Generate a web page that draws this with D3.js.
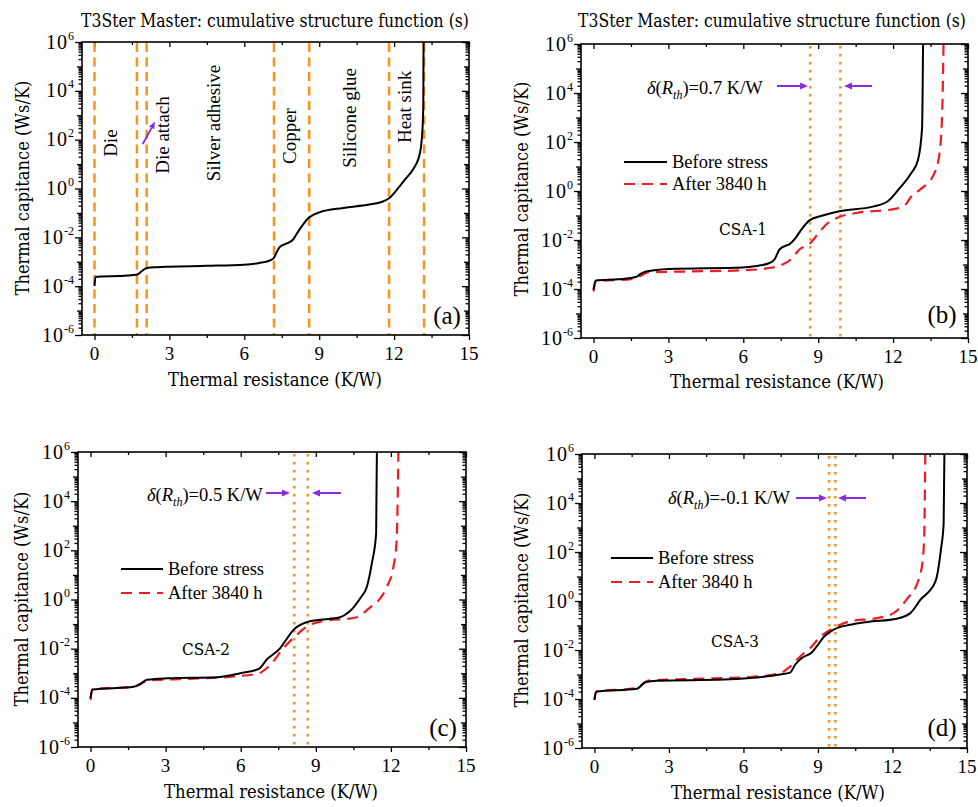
<!DOCTYPE html>
<html>
<head>
<meta charset="utf-8">
<script src="https://cdn.jsdelivr.net/npm/d3@7"></script>
<style>
  body { margin: 0; background: #fff; }
  svg { display: block; }
</style>
</head>
<body>
<svg id="chart" width="978" height="807"></svg>
<script>
// ---- Cumulative structure function data: thermal resistance R (K/W) vs thermal capacitance C (Ws/K)

// (a) reference device with layer boundaries
const aR = [0, 0.04, 0.3, 1.0, 1.5, 1.72, 1.9, 2.1, 2.5, 3.0, 4.5, 6.0, 6.6, 7.0, 7.18, 7.3, 7.42, 7.7, 7.96, 8.1, 8.3, 8.56, 8.8, 9.0, 9.96, 11.0, 11.5, 11.8, 12.23, 12.5, 12.77, 13.04, 13.14, 13.17, 13.18];
const aC = [1.0e-4, 2.4e-4, 2.5e-4, 2.6e-4, 2.8e-4, 3.0e-4, 4.2e-4, 5.5e-4, 6.0e-4, 6.3e-4, 6.8e-4, 7.6e-4, 8.9e-4, 1.1e-3, 1.4e-3, 2.5e-3, 4.0e-3, 5.6e-3, 8.3e-3, 1.4e-2, 2.8e-2, 6.0e-2, 8.7e-2, 0.105, 0.16, 0.22, 0.28, 0.4, 1.26, 2.8, 6.3, 30, 316, 3160, 1e6];
const layerBounds = [0, 1.7, 2.09, 7.19, 8.6, 11.8, 13.2];
const layerNames = ["Die", "Die attach", "Silver adhesive", "Copper", "Silicone glue", "Heat sink"];

// (b) CSA-1
const bBeforeR = [0, 0.09, 1.0, 1.7, 1.9, 2.1, 3.03, 5.98, 6.6, 7.05, 7.25, 7.45, 7.91, 8.09, 8.32, 8.65, 9.18, 9.85, 11.19, 11.79, 12.26, 12.73, 13.0, 13.16, 13.2];
const bBeforeC = [9.3e-5, 2.2e-4, 2.5e-4, 3.1e-4, 4.2e-4, 5.2e-4, 6.6e-4, 7.6e-4, 8.9e-4, 1.15e-3, 1.6e-3, 4.1e-3, 7.6e-3, 1.2e-2, 2.6e-2, 6.3e-2, 0.1, 0.15, 0.23, 0.38, 1.3, 5.4, 19, 370, 1e6];
const bAfterR = [0, 0.09, 1.56, 1.9, 2.17, 3.84, 5.98, 7.0, 7.51, 7.91, 8.25, 8.65, 8.98, 9.32, 9.85, 10.52, 12.13, 12.5, 12.73, 13.06, 13.66, 13.86, 13.97, 14.02];
const bAfterC = [7.9e-5, 2.0e-4, 2.6e-4, 3.5e-4, 4.8e-4, 5.2e-4, 5.8e-4, 7.1e-4, 9.3e-4, 1.6e-3, 4.1e-3, 6.9e-3, 1.7e-2, 4.3e-2, 8.7e-2, 0.126, 0.19, 0.28, 0.6, 1.1, 5.4, 35, 2100, 1e6];
const bShift = [8.68, 9.89];

// (c) CSA-2
const cBeforeR = [0, 0.07, 1.73, 2.0, 2.26, 3.06, 5.05, 5.98, 6.72, 7.05, 7.58, 7.85, 8.11, 8.64, 9.18, 9.97, 10.31, 10.77, 11.04, 11.24, 11.41, 11.44];
const cBeforeC = [9.8e-5, 2.2e-4, 2.8e-4, 3.8e-4, 5.4e-4, 6.2e-4, 6.9e-4, 1.0e-3, 1.5e-3, 3.7e-3, 1.05e-2, 2.6e-2, 5.8e-2, 0.12, 0.15, 0.19, 0.3, 1.1, 3.3, 30, 490, 1e6];
const cAfterR = [0, 0.07, 1.73, 2.0, 2.26, 3.72, 5.72, 6.72, 7.18, 7.71, 8.18, 8.64, 9.18, 10.64, 11.04, 11.84, 12.1, 12.23, 12.3];
const cAfterC = [8.3e-5, 2.2e-4, 2.8e-4, 3.6e-4, 5.0e-4, 5.8e-4, 7.4e-4, 1.0e-3, 2.2e-3, 1.05e-2, 3.2e-2, 7.9e-2, 0.126, 0.19, 0.37, 3.3, 21, 260, 1e6];
const cShift = [8.14, 8.68];

// (d) CSA-3
const dBeforeR = [0, 0.07, 1.71, 2.04, 2.51, 5.2, 6.27, 7.48, 7.88, 8.08, 8.35, 8.75, 8.95, 9.23, 9.63, 10.3, 10.97, 12.18, 12.72, 13.12, 13.73, 13.95, 14.06, 14.09];
const dBeforeC = [9.3e-5, 2.0e-4, 2.6e-4, 4.8e-4, 5.6e-4, 6.2e-4, 7.2e-4, 1.0e-3, 1.2e-3, 2.5e-3, 4.7e-3, 7.9e-3, 1.4e-2, 3.4e-2, 6.8e-2, 0.107, 0.14, 0.19, 0.32, 1.1, 6.3, 126, 1500, 1e6];
const dAfterR = [0, 0.07, 1.71, 2.18, 3.85, 6.27, 7.48, 7.88, 8.29, 8.69, 9.09, 9.63, 10.3, 11.37, 12.04, 12.58, 13.05, 13.22, 13.28, 13.32];
const dAfterC = [9.3e-5, 2.0e-4, 2.8e-4, 5.6e-4, 6.6e-4, 7.9e-4, 1.15e-3, 2.1e-3, 5.5e-3, 1.2e-2, 3.4e-2, 7.9e-2, 0.15, 0.2, 0.32, 1.2, 7.4, 49, 600, 1e6];
const dShift = [9.45, 9.7];

// Axis ticks
const xMajor = [0, 3, 6, 9, 12, 15];
const xMinor = [1.5, 4.5, 7.5, 10.5, 13.5];
const yMajorExp = [-6, -4, -2, 0, 2, 4, 6];
const xDomain = [-0.5, 15];
const yDomain = [1e-6, 1e6];

// Text
const titleText = "T3Ster Master: cumulative structure function (s)";
const xLabel = "Thermal resistance (K/W)";
const yLabel = "Thermal capitance (Ws/K)";
const legendLabels = ["Before stress", "After 3840 h"];

// ---- styles
const SERIF = "'Liberation Serif','Times New Roman',serif";
const CAMB = "'DejaVu Serif Condensed','DejaVu Serif',serif";
const ORANGE = "#f7941d";
const RED = "#ec1c24";
const PURPLE = "#8a2be2";

const svg = d3.select("#chart");

// Panel frames and annotation placement
const panels = [
  {
    key: "a", frame: [82, 42, 469, 335], tag: "(a)", tagPos: [447, 324],
    title: [275, 27], xl: [275, 386], yl: [29, 188],
    curves: [{ r: aR, c: aC, dash: null }],
    bounds: layerBounds
  },
  {
    key: "b", frame: [581, 44, 968, 338], tag: "(b)", tagPos: [942, 323],
    title: [772, 27], xl: [777, 388], yl: [528, 189],
    curves: [{ r: bBeforeR, c: bBeforeC, dash: null }, { r: bAfterR, c: bAfterC, dash: "11,7" }],
    shift: bShift, delta: "0.7", deltaPos: [647, 94], arrowY: 86, arrowL: [777, 808], arrowR: [872, 844],
    legend: { x1: 624, x2: 667, tx: 672, y1: 162, y2: 184 }, csa: ["CSA-1", 743, 235]
  },
  {
    key: "c", frame: [78, 452, 466, 747], tag: "(c)", tagPos: [443, 736],
    xl: [271, 798], yl: [28, 599],
    curves: [{ r: cBeforeR, c: cBeforeC, dash: null }, { r: cAfterR, c: cAfterC, dash: "11,7" }],
    shift: cShift, delta: "0.5", deltaPos: [147, 501], arrowY: 493, arrowL: [266, 290], arrowR: [341, 312],
    legend: { x1: 121, x2: 163, tx: 168, y1: 569, y2: 593 }, csa: ["CSA-2", 206, 655]
  },
  {
    key: "d", frame: [582, 454, 967, 748], tag: "(d)", tagPos: [942, 736],
    xl: [778, 799], yl: [528, 600],
    curves: [{ r: dBeforeR, c: dBeforeC, dash: null }, { r: dAfterR, c: dAfterC, dash: "11,7" }],
    shift: dShift, delta: "-0.1", deltaPos: [668, 504], arrowY: 498, arrowL: [796, 827], arrowR: [866, 838],
    legend: { x1: 611, x2: 653, tx: 658, y1: 558, y2: 582 }, csa: ["CSA-3", 735, 647]
  }
];

// Layer label placement for panel (a): [R at text baseline, C at text centre]
const layerLabelPos = [[0.92, 72], [3.0, 155], [5.04, 480], [8.09, 141], [10.47, 780], [12.66, 2200]];

// Text squeezed horizontally to a given width (keeps glyph height)
function fittedText(g, str, cx, cy, width, size, rotate) {
  const t = g.append("text").attr("text-anchor", "middle")
    .attr("font-family", CAMB).attr("font-size", size).text(str);
  const natural = t.node().getComputedTextLength() || width;
  const sx = width / natural;
  t.attr("transform", `translate(${cx},${cy})${rotate ? " rotate(-90)" : ""} scale(${sx},1)`);
  return t;
}

function arrow(g, x1, x2, y) {
  const dir = Math.sign(x2 - x1);
  g.append("line").attr("x1", x1).attr("x2", x2 - dir * 6).attr("y1", y).attr("y2", y)
    .attr("stroke", PURPLE).attr("stroke-width", 2);
  g.append("path")
    .attr("d", `M${x2},${y} L${x2 - dir * 8},${y - 3.5} L${x2 - dir * 8},${y + 3.5} Z`)
    .attr("fill", PURPLE);
}

function drawPanel(p) {
  const [L, T, R, B] = p.frame;
  const x = d3.scaleLinear().domain(xDomain).range([L, R]);
  const y = d3.scaleLog().domain(yDomain).range([B, T]);
  const g = svg.append("g");

  const clipId = "clip-" + p.key;
  svg.append("clipPath").attr("id", clipId)
    .append("rect").attr("x", L).attr("y", T).attr("width", R - L).attr("height", B - T);

  // minor log ticks: odd decades get a mid-length tick, 2..9 a short one
  const yDecade = [], yMinor = [];
  for (let e = -6; e < 6; e++) {
    for (let k = 1; k <= 9; k++) {
      if (k === 1) { if (e % 2 !== 0) yDecade.push(Math.pow(10, e)); continue; }
      yMinor.push(k * Math.pow(10, e));
    }
  }
  const yMaj = yMajorExp.map(e => Math.pow(10, e));

  function styleAxis(sel) {
    sel.select(".domain").remove();
    sel.selectAll(".tick line").attr("stroke", "#000").attr("stroke-width", 1.3);
    sel.selectAll(".tick text").remove();
  }
  function ax(gen, tr, vals, size) {
    g.append("g").attr("transform", tr)
      .call(gen.tickValues(vals).tickSize(size).tickFormat(""))
      .call(styleAxis);
  }

  // bottom (outward) and top (inward)
  ax(d3.axisBottom(x), `translate(0,${B})`, xMajor, 5);
  ax(d3.axisBottom(x), `translate(0,${B})`, xMinor, 3);
  ax(d3.axisTop(x), `translate(0,${T})`, xMajor, -5);
  ax(d3.axisTop(x), `translate(0,${T})`, xMinor, -3);
  // left (outward) and right (inward)
  ax(d3.axisLeft(y), `translate(${L},0)`, yMaj, 7);
  ax(d3.axisLeft(y), `translate(${L},0)`, yDecade, 5);
  ax(d3.axisLeft(y), `translate(${L},0)`, yMinor, 3.5);
  ax(d3.axisRight(y), `translate(${R},0)`, yMaj, -7);
  ax(d3.axisRight(y), `translate(${R},0)`, yDecade, -5);
  ax(d3.axisRight(y), `translate(${R},0)`, yMinor, -3.5);

  // tick labels
  g.selectAll(".xlab").data(xMajor).join("text")
    .attr("x", d => x(d)).attr("y", B + 25)
    .attr("text-anchor", "middle").attr("font-family", SERIF).attr("font-size", 19)
    .text(d => d);
  const yl = g.selectAll(".ylab").data(yMajorExp).join("text")
    .attr("x", L - 8).attr("y", d => y(Math.pow(10, d)) + 6.5)
    .attr("text-anchor", "end").attr("font-family", SERIF).attr("font-size", 20);
  yl.append("tspan").attr("letter-spacing", 1).text("10");
  yl.append("tspan").attr("dy", -9).attr("font-size", 12).text(d => d);

  // orange markers
  const marks = g.append("g").attr("clip-path", `url(#${clipId})`);
  if (p.bounds) {
    marks.selectAll("line").data(p.bounds).join("line")
      .attr("x1", d => x(d)).attr("x2", d => x(d)).attr("y1", T + 1).attr("y2", B)
      .attr("stroke", ORANGE).attr("stroke-width", 2.5).attr("stroke-dasharray", "9,5.5");
  }
  if (p.shift) {
    marks.selectAll("line").data(p.shift).join("line")
      .attr("x1", d => x(d)).attr("x2", d => x(d)).attr("y1", T + 2).attr("y2", B)
      .attr("stroke", ORANGE).attr("stroke-width", 2.6).attr("stroke-dasharray", "2.5,5.5");
  }

  // curves
  const line = d3.line().x(d => x(d[0])).y(d => y(d[1])).curve(d3.curveMonotoneX);
  const cg = g.append("g").attr("clip-path", `url(#${clipId})`);
  p.curves.slice().reverse().forEach(cv => {
    cg.append("path").datum(d3.zip(cv.r, cv.c))
      .attr("d", line).attr("fill", "none")
      .attr("stroke", cv.dash ? RED : "#000")
      .attr("stroke-width", cv.dash ? 2.2 : 2)
      .attr("stroke-dasharray", cv.dash);
  });

  // frame
  g.append("rect").attr("x", L).attr("y", T).attr("width", R - L).attr("height", B - T)
    .attr("fill", "none").attr("stroke", "#000").attr("stroke-width", 1.6);

  // titles and axis labels
  if (p.title) fittedText(g, titleText, p.title[0], p.title[1], 388, 18.5, false);
  fittedText(g, xLabel, p.xl[0], p.xl[1], 214, 18.5, false);
  fittedText(g, yLabel, p.yl[0], p.yl[1], 215, 18.5, true);

  // panel tag
  g.append("text").attr("x", p.tagPos[0]).attr("y", p.tagPos[1])
    .attr("text-anchor", "middle").attr("font-family", SERIF).attr("font-size", 25)
    .text(p.tag);

  // layer names in panel (a)
  if (p.key === "a") {
    layerNames.forEach((name, i) => {
      const [r, c] = layerLabelPos[i];
      g.append("text").attr("transform", `translate(${x(r)},${y(c)}) rotate(-90)`)
        .attr("text-anchor", "middle").attr("font-family", SERIF).attr("font-size", 19)
        .text(name);
    });
    // arrow pointing at the die-attach layer
    const ax1 = 142.7, ay1 = 144, ax2 = 155, ay2 = 121.7;
    const ang = Math.atan2(ay2 - ay1, ax2 - ax1);
    const hx = ax2 - 7 * Math.cos(ang), hy = ay2 - 7 * Math.sin(ang);
    g.append("line").attr("x1", ax1).attr("y1", ay1).attr("x2", hx).attr("y2", hy)
      .attr("stroke", PURPLE).attr("stroke-width", 1.8);
    const px = -Math.sin(ang) * 3, py = Math.cos(ang) * 3;
    g.append("path").attr("d", `M${ax2},${ay2} L${hx + px},${hy + py} L${hx - px},${hy - py} Z`)
      .attr("fill", PURPLE);
  }

  // shift annotation, legend, sample name
  if (p.delta) {
    const t = g.append("text").attr("x", p.deltaPos[0]).attr("y", p.deltaPos[1])
      .attr("font-family", SERIF).attr("font-size", 18.5);
    t.append("tspan").attr("font-style", "italic").text("δ");
    t.append("tspan").text("(");
    t.append("tspan").attr("font-style", "italic").text("R");
    t.append("tspan").attr("font-style", "italic").attr("font-size", 12).attr("dy", 5).text("th");
    t.append("tspan").attr("dy", -5).text(")=" + p.delta + " K/W");
    arrow(g, p.arrowL[0], p.arrowL[1], p.arrowY);
    arrow(g, p.arrowR[0], p.arrowR[1], p.arrowY);

    const lg = p.legend;
    g.append("line").attr("x1", lg.x1).attr("x2", lg.x2).attr("y1", lg.y1).attr("y2", lg.y1)
      .attr("stroke", "#000").attr("stroke-width", 2);
    g.append("line").attr("x1", lg.x1).attr("x2", lg.x2).attr("y1", lg.y2).attr("y2", lg.y2)
      .attr("stroke", RED).attr("stroke-width", 2.2).attr("stroke-dasharray", "11,7");
    g.append("text").attr("x", lg.tx).attr("y", lg.y1 + 6).attr("font-family", SERIF)
      .attr("font-size", 18.5).text(legendLabels[0]);
    g.append("text").attr("x", lg.tx).attr("y", lg.y2 + 6).attr("font-family", SERIF)
      .attr("font-size", 18.5).text(legendLabels[1]);

    fittedText(g, p.csa[0], p.csa[1], p.csa[2], 48, 17, false);
  }
}

panels.forEach(drawPanel);
</script>
</body>
</html>
